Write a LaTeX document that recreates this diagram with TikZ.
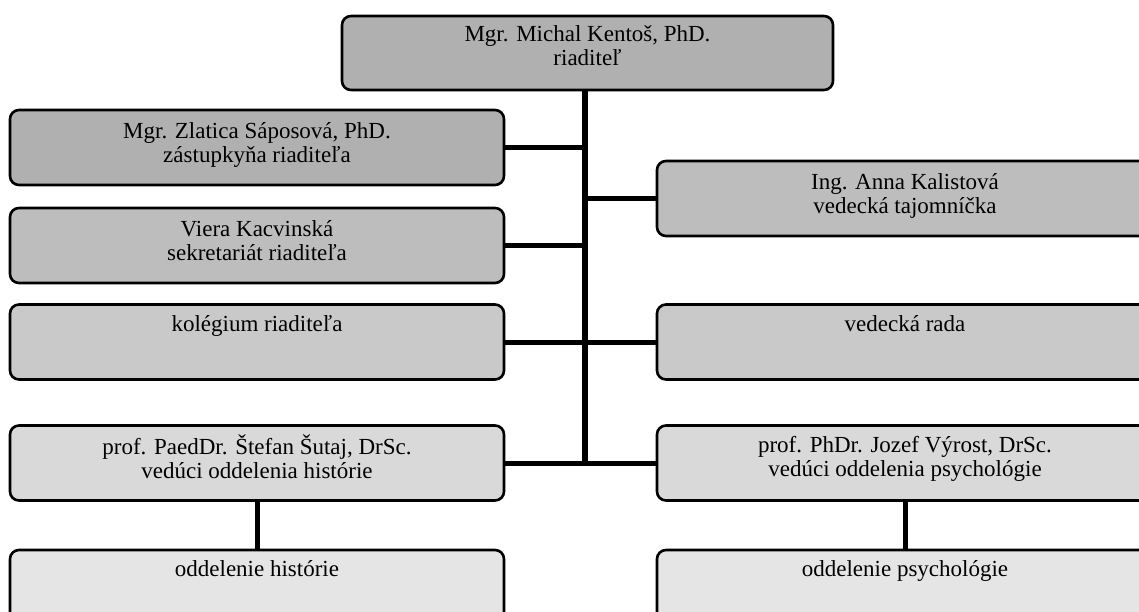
\documentclass[tikz,border=0pt]{standalone}
\usepackage{fontspec}
\setmainfont{Liberation Serif}
\begin{document}
\begin{tikzpicture}[x=1pt,y=-1pt,
  orgbox/.style={draw=black, line width=2.6pt, rounded corners=9pt, inner sep=0pt, minimum height=75pt},
  lbox/.style={orgbox, minimum width=494pt},
  rbox/.style={orgbox, minimum width=496pt},
  lbl/.style={anchor=north, align=center, inner sep=0pt, font=\fontsize{23pt}{24pt}\selectfont},
  link/.style={line width=5pt}]
\useasboundingbox (0,0) rectangle (1139,612);
\clip (0,0) rectangle (1139,612);
% boxes
\node[orgbox, minimum width=491pt, minimum height=74pt, fill=black!31] (top) at (587.5,53) {};
\node[lbox, fill=black!31] (l1) at (257,147.5) {};
\node[lbox, fill=black!26] (l2) at (257,245.5) {};
\node[lbox, fill=black!21] (l3) at (257,342) {};
\node[lbox, fill=black!15] (l4) at (257,463) {};
\node[lbox, fill=black!10] (l5) at (257,587.5) {};
\node[rbox, fill=black!26] (r1) at (905,198.5) {};
\node[rbox, fill=black!21] (r2) at (905,342) {};
\node[rbox, fill=black!15] (r3) at (905,463) {};
\node[rbox, fill=black!10] (r4) at (905,587.5) {};
% texts
\node[lbl] (ttop) at ([yshift=-9pt]top.north) {\rule{0pt}{18pt}Mgr. Michal Kentoš, PhD.\\riaditeľ};
\node[lbl] (tl1) at ([yshift=-12pt]l1.north) {\rule{0pt}{18pt}Mgr. Zlatica Sáposová, PhD.\\zástupkyňa riaditeľa};
\node[lbl] (tl2) at ([yshift=-12pt]l2.north) {\rule{0pt}{18pt}Viera Kacvinská\\sekretariát riaditeľa};
\node[lbl] (tl3) at ([yshift=-10pt]l3.north) {\rule{0pt}{18pt}kolégium riaditeľa};
\node[lbl] (tl4) at ([yshift=-10pt]l4.north) {\rule{0pt}{18pt}prof. PaedDr. Štefan Šutaj, DrSc.\\vedúci oddelenia histórie};
\node[lbl] (tl5) at ([yshift=-10pt]l5.north) {\rule{0pt}{18pt}oddelenie histórie};
\node[lbl] (tr1) at ([yshift=-12pt]r1.north) {\rule{0pt}{18pt}Ing. Anna Kalistová\\vedecká tajomníčka};
\node[lbl] (tr2) at ([yshift=-10pt]r2.north) {\rule{0pt}{18pt}vedecká rada};
\node[lbl] (tr3) at ([yshift=-10pt]r3.north) {\rule{0pt}{18pt}prof. PhDr. Jozef Výrost, DrSc.\\vedúci oddelenia psychológie};
\node[lbl] (tr4) at ([yshift=-10pt]r4.north) {\rule{0pt}{18pt}oddelenie psychológie};
% connectors
\coordinate (trunktop) at (585,91);
\coordinate (trunkbot) at (585,463);
\draw[line width=6pt] (trunktop) -- (trunkbot);
\draw[link] (l1.east) -- (l1.east -| trunkbot);
\draw[link] (l2.east) -- (l2.east -| trunkbot);
\draw[link] (r1.west) -- (r1.west -| trunkbot);
\draw[link] (l3.east) -- (r2.west);
\draw[link] (l4.east) -- (r3.west);
\draw[link] (l4.south) -- (l5.north);
\draw[link] (r3.south) -- (r4.north);
\end{tikzpicture}
\end{document}
